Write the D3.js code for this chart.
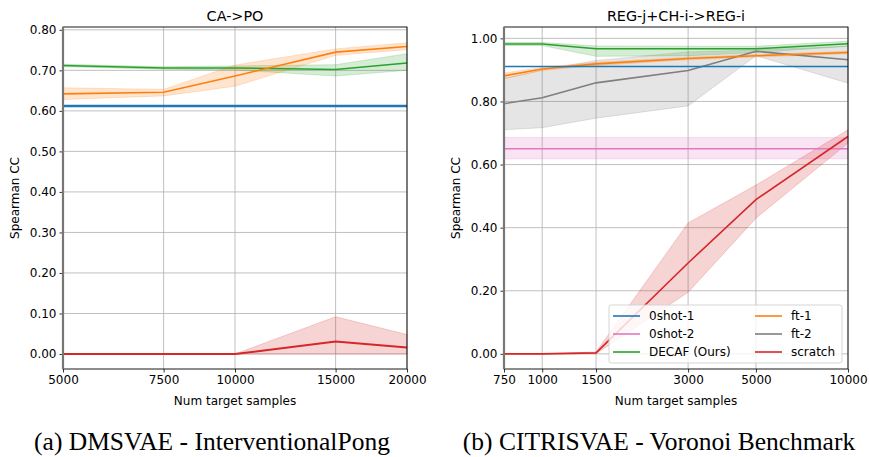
<!DOCTYPE html>
<html>
<head>
<meta charset="utf-8">
<script src="https://cdn.jsdelivr.net/npm/d3@7"></script>
<style>
  body { margin: 0; background: #fff; }
  svg { display: block; }
</style>
</head>
<body>
<script>
// ---- data: (a) CA->PO ----
const leftX = [5000, 7500, 10000, 15000, 20000];
const leftShot1 = [0.612, 0.612, 0.612, 0.612, 0.612];
const leftDecaf = [0.712, 0.706, 0.706, 0.702, 0.718];
const leftDecafLo = [0.709, 0.703, 0.701, 0.686, 0.700];
const leftDecafHi = [0.715, 0.709, 0.711, 0.714, 0.741];
const leftFt1 = [0.642, 0.646, 0.686, 0.745, 0.759];
const leftFt1Lo = [0.628, 0.637, 0.661, 0.737, 0.751];
const leftFt1Hi = [0.657, 0.653, 0.713, 0.753, 0.768];
const leftScratch = [0.0, 0.0, 0.0, 0.031, 0.016];
const leftScratchLo = [0.0, 0.0, 0.0, 0.0, 0.0];
const leftScratchHi = [0.0, 0.0, 0.0, 0.092, 0.048];
const leftYTicks = [0, 0.1, 0.2, 0.3, 0.4, 0.5, 0.6, 0.7, 0.8];

// ---- data: (b) REG-j+CH-i->REG-i ----
const rightX = [750, 1000, 1500, 3000, 5000, 10000];
const rightShot1 = [0.911, 0.911, 0.911, 0.911, 0.911, 0.911];
const rightShot2 = [0.650, 0.650, 0.650, 0.650, 0.650, 0.650];
const rightShot2Lo = [0.618, 0.618, 0.618, 0.618, 0.618, 0.618];
const rightShot2Hi = [0.686, 0.686, 0.686, 0.686, 0.686, 0.686];
const rightDecaf = [0.982, 0.982, 0.967, 0.967, 0.967, 0.983];
const rightDecafLo = [0.977, 0.977, 0.943, 0.945, 0.955, 0.975];
const rightDecafHi = [0.987, 0.987, 0.976, 0.975, 0.975, 0.991];
const rightFt1 = [0.881, 0.903, 0.919, 0.936, 0.945, 0.955];
const rightFt1Lo = [0.872, 0.898, 0.914, 0.932, 0.941, 0.951];
const rightFt1Hi = [0.890, 0.908, 0.924, 0.940, 0.949, 0.959];
const rightFt2 = [0.793, 0.812, 0.859, 0.898, 0.959, 0.932];
const rightFt2Lo = [0.710, 0.717, 0.747, 0.786, 0.945, 0.858];
const rightFt2Hi = [0.873, 0.900, 0.930, 0.957, 0.963, 0.975];
const rightScratch = [0.0, 0.0, 0.003, 0.288, 0.489, 0.689];
const rightScratchLo = [0.0, 0.0, 0.0, 0.195, 0.430, 0.668];
const rightScratchHi = [0.0, 0.0, 0.006, 0.415, 0.535, 0.710];
const rightYTicks = [0, 0.2, 0.4, 0.6, 0.8, 1.0];

const legendNames = ["0shot-1", "0shot-2", "DECAF (Ours)", "ft-1", "ft-2", "scratch"];
const colors = {
    "0shot-1": "#1f77b4", "0shot-2": "#e377c2", "DECAF (Ours)": "#2ca02c",
    "ft-1": "#ff7f0e", "ft-2": "#7f7f7f", "scratch": "#d62728"
};

const W = 869, H = 457;
const font = "'DejaVu Sans', sans-serif";
const serif = "'Liberation Serif', 'Times New Roman', serif";

const svg = d3.select("body").append("svg")
    .attr("width", W).attr("height", H)
    .attr("viewBox", `0 0 ${W} ${H}`);

function drawPanel(p) {
    const x = d3.scaleLog().domain(p.xDomain).range([p.left, p.right]);
    const y = d3.scaleLinear().domain(p.yDomain).range([p.bottom, p.top]);
    const g = svg.append("g");

    // grid
    g.append("g").selectAll("line").data(p.xs).join("line")
        .attr("x1", d => x(d)).attr("x2", d => x(d))
        .attr("y1", p.top).attr("y2", p.bottom)
        .attr("stroke", "#b0b0b0").attr("stroke-width", 0.8);
    g.append("g").selectAll("line").data(p.yTicks).join("line")
        .attr("x1", p.left).attr("x2", p.right)
        .attr("y1", d => y(d)).attr("y2", d => y(d))
        .attr("stroke", "#b0b0b0").attr("stroke-width", 0.8);

    const area = d3.area().x(d => x(d.x)).y0(d => y(d.lo)).y1(d => y(d.hi));
    const line = d3.line().x(d => x(d.x)).y(d => y(d.v));

    p.series.forEach(s => {
        if (s.lo) {
            const pts = p.xs.map((xv, i) => ({ x: xv, lo: s.lo[i], hi: s.hi[i] }));
            g.append("path").attr("d", area(pts))
                .attr("fill", colors[s.name]).attr("fill-opacity", 0.2)
                .attr("stroke", colors[s.name]).attr("stroke-opacity", 0.2)
                .attr("stroke-width", 1);
        }
    });
    p.series.forEach(s => {
        const pts = p.xs.map((xv, i) => ({ x: xv, v: s.v[i] }));
        g.append("path").attr("d", line(pts))
            .attr("fill", "none").attr("stroke", colors[s.name])
            .attr("stroke-width", s.width || 1.6);
    });

    // axes
    const xAxis = d3.axisBottom(x).tickValues(p.xs).tickFormat(d3.format("d"))
        .tickSizeInner(3.5).tickSizeOuter(0).tickPadding(3);
    const gx = g.append("g").attr("transform", `translate(0,${p.bottom})`).call(xAxis);
    const yAxis = d3.axisLeft(y).tickValues(p.yTicks).tickFormat(d3.format(".2f"))
        .tickSizeInner(3.5).tickSizeOuter(0).tickPadding(3);
    const gy = g.append("g").attr("transform", `translate(${p.left},0)`).call(yAxis);
    [gx, gy].forEach(a => {
        a.attr("font-family", null).attr("font-size", null);
        a.selectAll("text").style("font-family", font).style("font-size", "12px").attr("fill", "#000");
        a.selectAll("line").attr("stroke", "#000").attr("stroke-width", 0.8);
        a.select(".domain").remove();
    });

    // spines
    g.append("rect").attr("x", p.left).attr("y", p.top)
        .attr("width", p.right - p.left).attr("height", p.bottom - p.top)
        .attr("fill", "none").attr("stroke", "#000").attr("stroke-width", 0.9);
    g.append("line").attr("x1", p.left).attr("x2", p.left)
        .attr("y1", p.top).attr("y2", p.bottom)
        .attr("stroke", "#777").attr("stroke-width", 2.2);

    // labels
    g.append("text").attr("x", (p.left + p.right) / 2).attr("y", 21)
        .attr("text-anchor", "middle").style("font-family", font).style("font-size", "14.4px")
        .text(p.title);
    g.append("text").attr("x", (p.left + p.right) / 2).attr("y", 405)
        .attr("text-anchor", "middle").style("font-family", font).style("font-size", "12px")
        .text("Num target samples");
    g.append("text")
        .attr("transform", `translate(${p.yLabelX},${(p.top + p.bottom) / 2}) rotate(-90)`)
        .attr("text-anchor", "middle").style("font-family", font).style("font-size", "12px")
        .text("Spearman CC");

    // caption
    svg.append("text").attr("x", p.captionX).attr("y", 450)
        .attr("text-anchor", "middle").style("font-family", serif)
        .style("font-size", "25.5px").text(p.caption);

    return { x, y, g };
}

drawPanel({
    xDomain: [5000, 20000], yDomain: [-0.037, 0.807],
    left: 63, right: 407, top: 27, bottom: 369,
    xs: leftX, yTicks: leftYTicks, title: "CA->PO", yLabelX: 19,
    caption: "(a) DMSVAE - InterventionalPong", captionX: 212,
    series: [
        { name: "0shot-1", v: leftShot1, width: 2.5 },
        { name: "DECAF (Ours)", v: leftDecaf, lo: leftDecafLo, hi: leftDecafHi },
        { name: "ft-1", v: leftFt1, lo: leftFt1Lo, hi: leftFt1Hi },
        { name: "scratch", v: leftScratch, lo: leftScratchLo, hi: leftScratchHi, width: 2 }
    ]
});

const right = drawPanel({
    xDomain: [750, 10000], yDomain: [-0.048, 1.036],
    left: 504, right: 848, top: 27, bottom: 369,
    xs: rightX, yTicks: rightYTicks, title: "REG-j+CH-i->REG-i", yLabelX: 460,
    caption: "(b) CITRISVAE - Voronoi Benchmark", captionX: 659,
    series: [
        { name: "0shot-2", v: rightShot2, lo: rightShot2Lo, hi: rightShot2Hi },
        { name: "ft-2", v: rightFt2, lo: rightFt2Lo, hi: rightFt2Hi },
        { name: "ft-1", v: rightFt1, lo: rightFt1Lo, hi: rightFt1Hi },
        { name: "0shot-1", v: rightShot1 },
        { name: "DECAF (Ours)", v: rightDecaf, lo: rightDecafLo, hi: rightDecafHi },
        { name: "scratch", v: rightScratch, lo: rightScratchLo, hi: rightScratchHi }
    ]
});

// legend
const lg = right.g.append("g").attr("transform", "translate(609,305)");
lg.append("rect").attr("width", 233).attr("height", 58).attr("rx", 2.5)
    .attr("fill", "#fff").attr("fill-opacity", 0.8)
    .attr("stroke", "#d0d0d0").attr("stroke-width", 0.9);
const items = lg.selectAll("g.item").data(legendNames).join("g")
    .attr("class", "item")
    .attr("transform", (d, i) => `translate(${i < 3 ? 4 : 146},${11 + (i % 3) * 18})`);
items.append("line").attr("x1", 0).attr("x2", 27)
    .attr("stroke", d => colors[d]).attr("stroke-width", 1.6);
items.append("text").attr("x", 36).attr("dy", "0.35em")
    .style("font-family", font).style("font-size", "12px").text(d => d);
</script>
</body>
</html>
